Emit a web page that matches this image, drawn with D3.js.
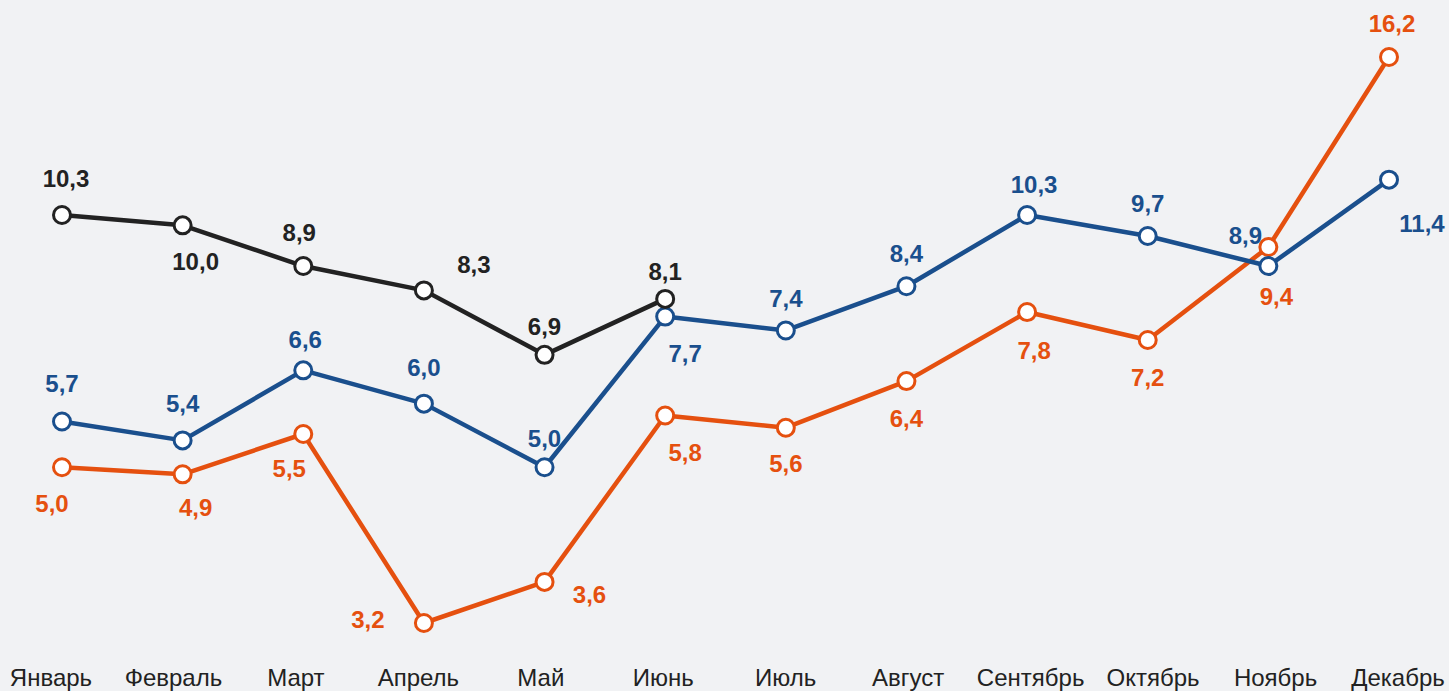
<!DOCTYPE html>
<html>
<head>
<meta charset="utf-8">
<script src="https://cdn.jsdelivr.net/npm/d3@7"></script>
<style>
  body { margin: 0; background: #f1f2f4; }
  svg { display: block; font-family: "Liberation Sans", Arial, sans-serif; }
</style>
</head>
<body>
<svg width="1449" height="691"></svg>
<script>
var months = ["Январь","Февраль","Март","Апрель","Май","Июнь","Июль","Август","Сентябрь","Октябрь","Ноябрь","Декабрь"];
var black = [10.3, 10.0, 8.9, 8.3, 6.9, 8.1];
var blue = [5.7, 5.4, 6.6, 6.0, 5.0, 7.7, 7.4, 8.4, 10.3, 9.7, 8.9, 11.4];
var orange = [5.0, 4.9, 5.5, 3.2, 3.6, 5.8, 5.6, 6.4, 7.8, 7.2, 9.4, 16.2];

// label offsets from each point (layout only)
var blackOff = [[4,-37],[13,36],[-4,-34],[50,-26],[0,-28],[0,-27]];
var blueOff = [[0,-38],[0,-37],[2,-31],[0,-36],[0,-29],[20,37],[0,-32],[0,-33],[7,-31],[0,-32],[-23,-31],[33,44]];
var orangeOff = [[-10,36],[13,33],[-14,35],[-56,-4],[45,13],[20,37],[0,36],[0,37],[7,38],[0,37],[8,50],[3,-34]];

var svg = d3.select("svg");
var width = +svg.attr("width"), height = +svg.attr("height");

var x = d3.scalePoint().domain(months).range([62, 1389]);
var xLab = d3.scalePoint().domain(months).range([51, 1398]);
var y = d3.scaleLog().domain([3.2, 16.2]).range([623, 57]);

var series = [
  { name: "orange", values: orange, off: orangeOff, color: "#e5500f" },
  { name: "blue", values: blue, off: blueOff, color: "#1a4f8d" },
  { name: "black", values: black, off: blackOff, color: "#222222" }
];

var line = d3.line()
  .x(function(d, i) { return x(months[i]); })
  .y(function(d) { return y(d); });

// month labels
svg.append("g").selectAll("text")
  .data(months)
  .enter().append("text")
  .attr("x", function(d) { return xLab(d); })
  .attr("y", 686)
  .attr("text-anchor", "middle")
  .attr("font-size", 24)
  .attr("fill", "#222")
  .text(function(d) { return d; });

series.forEach(function(s) {
  var g = svg.append("g");
  g.append("path")
    .datum(s.values)
    .attr("d", line)
    .attr("fill", "none")
    .attr("stroke", s.color)
    .attr("stroke-width", 4.5)
    .attr("stroke-linejoin", "round");
});

series.forEach(function(s) {
  var g = svg.append("g");
  g.selectAll("circle")
    .data(s.values)
    .enter().append("circle")
    .attr("cx", function(d, i) { return x(months[i]); })
    .attr("cy", function(d) { return y(d); })
    .attr("r", 8.5)
    .attr("fill", "#fff")
    .attr("stroke", s.color)
    .attr("stroke-width", 3);

  g.selectAll("text")
    .data(s.values)
    .enter().append("text")
    .attr("x", function(d, i) { return x(months[i]) + s.off[i][0]; })
    .attr("y", function(d, i) { return y(d) + s.off[i][1]; })
    .attr("text-anchor", "middle")
    .attr("dominant-baseline", "central")
    .attr("font-size", 24)
    .attr("font-weight", "bold")
    .attr("fill", s.color)
    .text(function(d) { return d.toFixed(1).replace(".", ","); });
});
</script>
</body>
</html>
